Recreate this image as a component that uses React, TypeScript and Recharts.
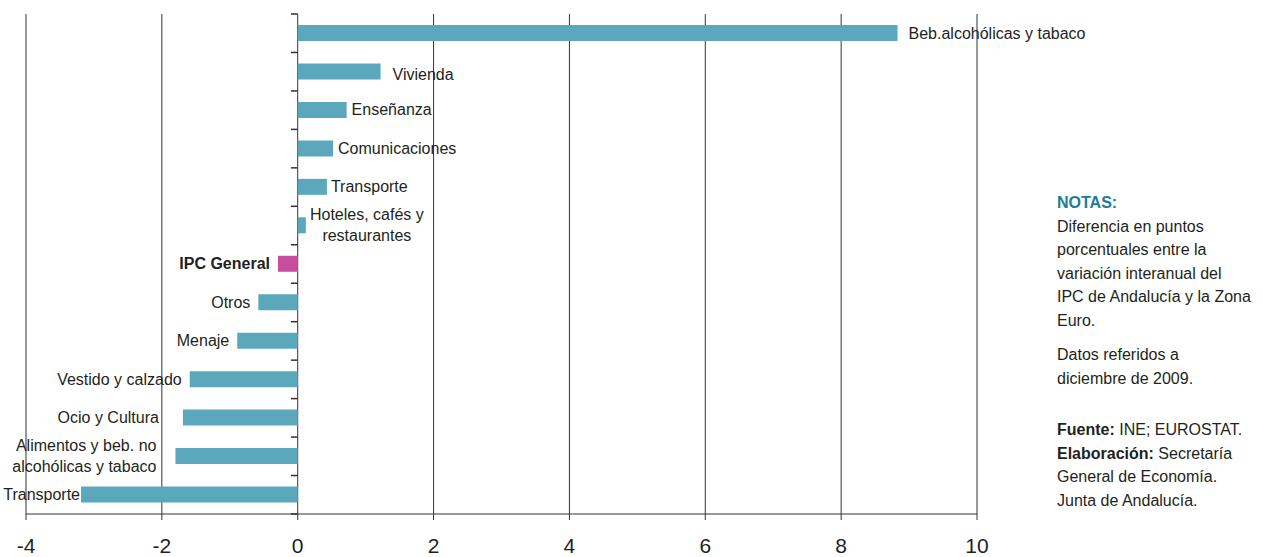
import {
  BarChart, Bar, XAxis, YAxis, CartesianGrid, ReferenceLine, LabelList, Cell,
} from 'recharts'

// Andalucía minus Euro Zone, interannual CPI, Dec 2009 (percentage points)
const categories = [
  'Beb.alcohólicas y tabaco',
  'Vivienda',
  'Enseñanza',
  'Comunicaciones',
  'Transporte',
  'Hoteles, cafés y\nrestaurantes',
  'IPC General',
  'Otros',
  'Menaje',
  'Vestido y calzado',
  'Ocio y Cultura',
  'Alimentos y beb. no\nalcohólicas y tabaco',
  'Transporte',
]
const values = [8.83, 1.22, 0.72, 0.52, 0.43, 0.12, -0.29, -0.58, -0.89, -1.59, -1.69, -1.8, -3.19]
const xTicks = [-4, -2, 0, 2, 4, 6, 8, 10]
const highlight = 'IPC General'

// small per-label nudges to sit the text like the original
const labelGap = [11, 12, 5, 5, 4, 61, 8, 8, 8, 8, 24, 19, 1]
const labelDy = [0, 3, 0, 0, 0, 0, 0, 0, 0, 0, 0, 0, 0]

const data = categories.map((name, i) => ({ key: `c${i}`, name, value: values[i] }))

const FONT = '"Liberation Sans", Arial, Helvetica, sans-serif'
const TEAL = '#5ba8bd'
const MAGENTA = '#c84d9c'
const INK = '#231f20'
const GRID = '#333333'

function BarLabel(props: any) {
  const { index } = props
  const vb = props.viewBox ?? props
  const x = Number(vb.x), w = Number(vb.width), y = Number(vb.y), h = Number(vb.height)
  const lo = Math.min(x, x + w)
  const hi = Math.max(x, x + w)
  const v = values[index]
  const lines = String(categories[index]).split('\n')
  const cy = y + h / 2 + labelDy[index]
  const gap = labelGap[index]
  let ax: number
  let anchor: 'start' | 'middle' | 'end'
  if (v >= 0) {
    ax = hi + gap
    anchor = lines.length > 1 ? 'middle' : 'start'
  } else {
    ax = lo - gap
    anchor = 'end'
  }
  const lh = 21
  const bold = categories[index] === highlight
  return (
    <text
      x={ax}
      y={cy}
      textAnchor={anchor}
      fontFamily={FONT}
      fontSize={16}
      fontWeight={bold ? 700 : 400}
      fill={INK}
    >
      {lines.map((ln, k) => (
        <tspan key={k} x={ax} y={cy + (k - (lines.length - 1) / 2) * lh} dominantBaseline="central">
          {ln}
        </tspan>
      ))}
    </text>
  )
}

function Notes() {
  const line = { margin: 0 }
  return (
    <div
      style={{
        position: 'absolute',
        left: 1057,
        top: 191,
        fontFamily: FONT,
        fontSize: 16,
        lineHeight: '23.5px',
        color: INK,
        whiteSpace: 'nowrap',
      }}
    >
      <div style={{ ...line, color: '#1a7d95', fontWeight: 700 }}>NOTAS:</div>
      <div style={line}>Diferencia en puntos</div>
      <div style={line}>porcentuales entre la</div>
      <div style={line}>variación interanual del</div>
      <div style={line}>IPC de Andalucía y la Zona</div>
      <div style={line}>Euro.</div>
      <div style={{ ...line, marginTop: 11 }}>Datos referidos a</div>
      <div style={line}>diciembre de 2009.</div>
      <div style={{ ...line, marginTop: 28 }}>
        <span style={{ fontWeight: 700 }}>Fuente:</span> INE; EUROSTAT.
      </div>
      <div style={line}>
        <span style={{ fontWeight: 700 }}>Elaboración:</span> Secretaría
      </div>
      <div style={line}>General de Economía.</div>
      <div style={line}>Junta de Andalucía.</div>
    </div>
  )
}

export default function App() {
  return (
    <div style={{ position: 'absolute', left: 0, top: 0, width: 1263, height: 557, background: '#fff', overflow: 'hidden' }}>
      <div style={{ position: 'absolute', left: 0, top: 0 }}>
        <BarChart
          width={1263}
          height={557}
          data={data}
          layout="vertical"
          margin={{ top: 14, right: 286, left: 26, bottom: 0 }}
          barSize={16}
          style={{ overflow: 'visible' }}
        >
          <CartesianGrid vertical horizontal={false} stroke={GRID} strokeWidth={1} />
          <XAxis
            type="number"
            domain={[-4, 10]}
            ticks={xTicks}
            allowDataOverflow
            height={43}
            axisLine={{ stroke: GRID }}
            tickLine={{ stroke: GRID }}
            tickSize={6}
            tickMargin={18}
            tick={{ fill: INK, fontSize: 21, fontFamily: FONT }}
          />
          <YAxis type="category" dataKey="key" hide width={0} />
          {data.map((d) => (
            <ReferenceLine
              key={`t-${d.key}`}
              segment={[{ x: -0.1, y: d.key }, { x: 0, y: d.key }]}
              position="start"
              stroke={GRID}
              strokeWidth={1.5}
              ifOverflow="visible"
            />
          ))}
          <ReferenceLine
            segment={[{ x: -0.1, y: data[data.length - 1].key }, { x: 0, y: data[data.length - 1].key }]}
            position="end"
            stroke={GRID}
            strokeWidth={1.5}
            ifOverflow="visible"
          />
          <Bar dataKey="value" isAnimationActive={false}>
            {data.map((d) => (
              <Cell key={d.key} fill={d.name === highlight ? MAGENTA : TEAL} />
            ))}
            <LabelList dataKey="name" content={<BarLabel />} />
          </Bar>
        </BarChart>
      </div>
      <Notes />
    </div>
  )
}
